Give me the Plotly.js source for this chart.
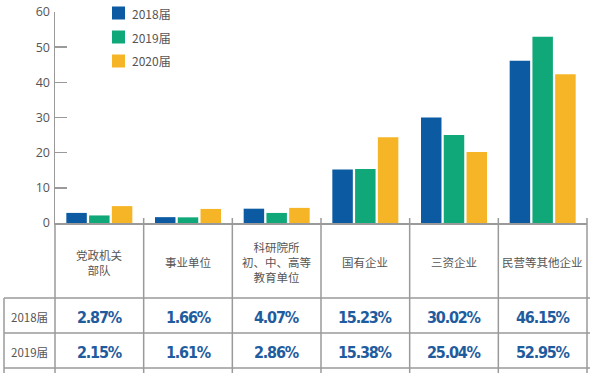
<!DOCTYPE html>
<html><head><meta charset="utf-8">
<script src="https://cdn.plot.ly/plotly-3.0.1.min.js"></script>
<style>html,body{margin:0;padding:0;background:#fff;}#chart{width:592px;height:373px;}</style>
</head><body><div id="chart"></div>
<script>
const categories = ["党政机关部队","事业单位","科研院所初中高等教育单位","国有企业","三资企业","民营等其他企业"];
const categoryLabels = ["党政机关<br>部队","事业单位","科研院所<br>初、中、高等<br>教育单位","国有企业","三资企业","民营等其他企业"];
const seriesNames = ["2018届","2019届","2020届"];
const values2018 = [2.87, 1.66, 4.07, 15.23, 30.02, 46.15];
const values2019 = [2.15, 1.61, 2.86, 15.38, 25.04, 52.95];
const values2020 = [4.8, 4.0, 4.3, 24.4, 20.2, 42.3];
const tableRowLabels = ["2018届","2019届"];
const tableRowValues = [values2018, values2019];
const yTicks = [0,10,20,30,40,50,60];

const colors = ["#0b5aa2","#10a878","#f6b427"];
const W = 592, H = 373;
const L = 55, R = 587, T = 12, B = 223;
const px = x => (x - L) / (R - L);
const py = y => (B - y) / (B - T);
const gray = "#9a9a9a";

const allVals = [values2018, values2019, values2020];
const traces = allVals.map((v, i) => ({
  type: "bar", x: categories, y: v, name: seriesNames[i],
  marker: {color: colors[i]}, hoverinfo: "skip"
}));

const shapes = [];
const line = (x0,y0,x1,y1) => shapes.push({type:"line", xref:"paper", yref:"paper",
  x0:px(x0), y0:py(y0), x1:px(x1), y1:py(y1), line:{color:gray, width:1.5}});
[298, 333, 368].forEach(y => line(4, y, 590, y));
line(4, 298, 4, 380);
line(L, B, L, 380);
for (let i = 1; i <= categories.length; i++) {
  const x = L + (R - L) * i / categories.length;
  line(x, 218, x, 380);
}

const annotations = [];
const ann = o => annotations.push(Object.assign({showarrow:false, xanchor:"center", yanchor:"middle", align:"center"}, o));
categories.forEach((c, i) => {
  ann({xref:"x", yref:"paper", x:c, y:py(262), text:categoryLabels[i],
    font:{family:"Noto Sans CJK SC", size:11.5, color:"#555"}});
});
const rowY = [317, 352];
tableRowLabels.forEach((lab, r) => {
  ann({xref:"paper", yref:"paper", x:px(29), y:py(rowY[r]), text:lab,
    font:{family:"Noto Sans CJK SC", size:11.5, color:"#555"}});
  tableRowValues[r].forEach((v, i) => {
    ann({xref:"x", yref:"paper", x:categories[i], y:py(rowY[r]),
      text:'<span style="letter-spacing:-1.2px">' + v.toFixed(2) + '%</span>',
      font:{family:"DejaVu Sans Condensed", size:16, color:"#1f5c9e", weight:"bold"}});
  });
});
seriesNames.forEach((n, i) => {
  const cy = 13 + 24 * i;
  shapes.push({type:"rect", xref:"paper", yref:"paper", x0:px(112), x1:px(125), y0:py(cy-6.5), y1:py(cy+6.5),
    fillcolor:colors[i], line:{width:0}});
  ann({xref:"paper", yref:"paper", x:px(130), y:py(cy), xanchor:"left", text:n,
    font:{family:"Noto Sans CJK SC", size:12, color:"#555"}});
});

const layout = {
  width: W, height: H,
  margin: {l: L, r: W - R, t: T, b: H - B, pad: 0},
  paper_bgcolor: "#fff", plot_bgcolor: "#fff",
  showlegend: false,
  barmode: "group", bargap: 0.23, bargroupgap: 0.1,
  xaxis: {showticklabels:false, showline:true, linecolor:gray, linewidth:1.5, ticks:"", showgrid:false, zeroline:false, fixedrange:true},
  yaxis: {range:[0,60], tickvals:yTicks, showline:true, linecolor:gray, linewidth:1.5, ticks:"inside", ticklen:12,
    tickcolor:gray, tickwidth:1.5, showgrid:false, zeroline:false, ticklabelstandoff:1,
    tickfont:{family:"Open Sans", size:12.5, color:"#555"}},
  shapes: shapes, annotations: annotations
};
Plotly.newPlot("chart", traces, layout, {staticPlot:true, displayModeBar:false});
</script></body></html>
